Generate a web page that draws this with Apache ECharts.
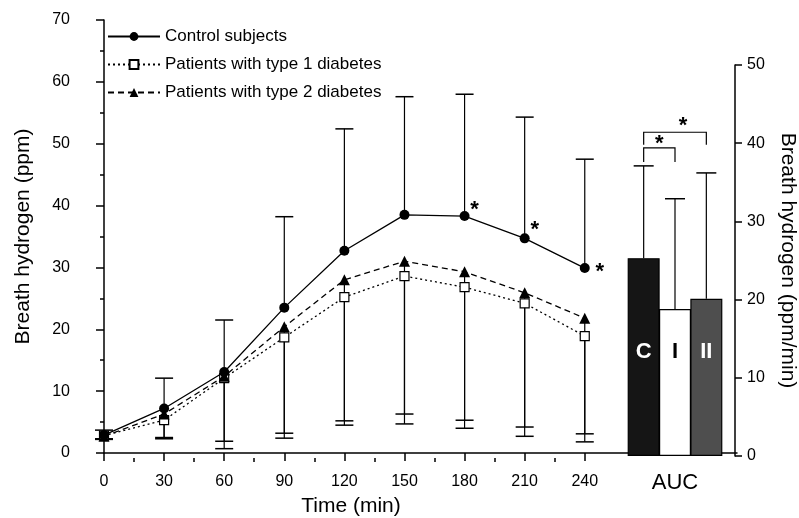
<!DOCTYPE html>
<html><head><meta charset="utf-8">
<script src="https://cdn.jsdelivr.net/npm/echarts@6/dist/echarts.min.js"></script>
<style>html,body{margin:0;padding:0;background:#fff}#c{width:799px;height:518px}</style>
</head><body><div id="c"></div>
<script>
// ---- data ----
const times = [0, 30, 60, 90, 120, 150, 180, 210, 240];
const minorTimes = [15, 45, 75, 105, 135, 165, 195, 225];
const control = [2.9, 7.2, 13.1, 23.5, 32.7, 38.5, 38.3, 34.7, 29.9];
const type1 = [2.8, 5.3, 12.1, 18.7, 25.2, 28.6, 26.8, 24.2, 18.9];
const type2 = [2.7, 6.3, 12.4, 20.4, 28.0, 31.0, 29.3, 25.9, 21.8];
const controlUpper = [3.7, 12.1, 21.5, 38.2, 52.4, 57.6, 58.0, 54.3, 47.5];
const type1Lower = [2.2, 2.3, 0.7, 2.4, 4.5, 4.7, 4.0, 2.7, 1.8];
const type2Lower = [2.3, 2.5, 1.9, 3.2, 5.2, 6.3, 5.3, 4.2, 3.1];
const sigTimes = [180, 210, 240];
const aucCats = ['C', 'I', 'II'];
const aucValues = [25.3, 18.8, 20.1];
const aucUpper = [37.1, 32.9, 36.2];
// brackets: [fromIndex, toIndex, legBottom, top]
const brackets = [[0, 2, 39.8, 41.4], [0, 1, 37.6, 39.4]];
const names = ['Control subjects', 'Patients with type 1 diabetes', 'Patients with type 2 diabetes'];

// ---- styles ----
const FF = "'Liberation Sans', Arial, Helvetica, sans-serif";
const starOffsets = {180: [10, -6], 210: [10, -8], 240: [15, 4]};
const barFill = ['#151515', '#ffffff', '#4e4e4e'];
const barText = ['#ffffff', '#000000', '#ffffff'];

function errRender(capHalf) {
  return function (params, api) {
    const x = api.value(0), y1 = api.value(1), y2 = api.value(2);
    const p1 = api.coord([x, y1]), p2 = api.coord([x, y2]);
    return {
      type: 'group',
      children: [
        {type: 'line', shape: {x1: p1[0], y1: p1[1], x2: p2[0], y2: p2[1]}, style: {stroke: '#000', lineWidth: 1.2}},
        {type: 'line', shape: {x1: p2[0] - capHalf, y1: p2[1], x2: p2[0] + capHalf, y2: p2[1]}, style: {stroke: '#000', lineWidth: 1.5}}
      ]
    };
  };
}

function bracketRender(params, api) {
  const a = api.value(0), b = api.value(1), lo = api.value(2), hi = api.value(3);
  const pa = api.coord([a, hi]), pb = api.coord([b, hi]);
  const pal = api.coord([a, lo]), pbl = api.coord([b, lo]);
  const wide = b - a > 1;
  const mid = (pa[0] + pb[0]) / 2 + (wide ? 8 : 0);
  return {
    type: 'group',
    children: [
      {type: 'polyline', shape: {points: [[pal[0], pal[1]], [pa[0], pa[1]], [pb[0], pb[1]], [pbl[0], pbl[1]]]},
       style: {stroke: '#000', lineWidth: 1.2, fill: null}},
      {type: 'text', style: {text: '*', x: mid, y: pa[1] + (wide ? 5 : 7), align: 'center', verticalAlign: 'bottom',
        font: 'bold 22px ' + FF, fill: '#000'}}
    ]
  };
}

const axisLineStyle = {color: '#000', width: 1.5};

const controlData = times.map((t, i) => {
  const item = {value: [t, control[i]]};
  if (sigTimes.includes(t)) {
    item.label = {show: true, formatter: '*', position: 'inside', offset: starOffsets[t],
      fontSize: 22, fontWeight: 'bold', color: '#000', fontFamily: FF};
  }
  return item;
});

const option = {
  animation: false,
  backgroundColor: '#fff',
  textStyle: {fontFamily: FF, color: '#000'},
  grid: [
    {left: 104, right: 62, top: 20, bottom: 65},
    {left: 628, right: 75, top: 65, bottom: 62}
  ],
  legend: {
    orient: 'vertical', left: 102, top: 23, itemWidth: 52, itemHeight: 11, itemGap: 11,
    textStyle: {fontSize: 17, color: '#000', fontFamily: FF},
    data: names
  },
  graphic: [
    {type: 'text', x: 351, y: 506, style: {text: 'Time (min)', align: 'center', verticalAlign: 'middle',
      font: '21px ' + FF, fill: '#000'}}
  ],
  xAxis: [
    {gridIndex: 0, type: 'value', position: 'bottom', min: 0, max: 316, offset: 5,
     axisLine: {lineStyle: axisLineStyle},
     axisTick: {show: true, customValues: times, length: 8, lineStyle: axisLineStyle},
     axisLabel: {customValues: times, fontSize: 16, color: '#000', margin: 16, fontFamily: FF},
     splitLine: {show: false}},
    {gridIndex: 0, type: 'value', position: 'bottom', min: 0, max: 316, offset: 5,
     axisLine: {show: false},
     axisTick: {show: true, customValues: minorTimes, length: 4, lineStyle: axisLineStyle},
     axisLabel: {show: false}, splitLine: {show: false}},
    {gridIndex: 1, type: 'category', position: 'bottom', data: aucCats,
     axisLine: {show: false}, axisTick: {show: false}, axisLabel: {show: false},
     name: 'AUC', nameLocation: 'middle', nameGap: 16,
     nameTextStyle: {fontSize: 22, color: '#000', fontFamily: FF}}
  ],
  yAxis: [
    {gridIndex: 0, type: 'value', min: 0, max: 70, interval: 10, offset: 20,
     axisLine: {show: true, lineStyle: axisLineStyle},
     axisTick: {show: true, length: 8, lineStyle: axisLineStyle},
     minorTick: {show: true, splitNumber: 2, length: 4, lineStyle: axisLineStyle},
     axisLabel: {fontSize: 16, color: '#000', margin: 14, fontFamily: FF},
     splitLine: {show: false},
     name: 'Breath hydrogen (ppm)', nameLocation: 'middle', nameGap: 50,
     nameTextStyle: {fontSize: 21, color: '#000', fontFamily: FF}},
    {gridIndex: 1, type: 'value', position: 'right', min: 0, max: 50, interval: 10, offset: 13,
     axisLine: {show: true, lineStyle: axisLineStyle},
     axisTick: {show: true, length: 7, lineStyle: axisLineStyle},
     axisLabel: {fontSize: 16, color: '#000', margin: 12, fontFamily: FF},
     splitLine: {show: false},
     name: 'Breath hydrogen (ppm/min)', nameLocation: 'middle', nameGap: 42, nameRotate: -90,
     nameTextStyle: {fontSize: 21, color: '#000', fontFamily: FF}}
  ],
  series: [
    {type: 'custom', xAxisIndex: 0, yAxisIndex: 0, renderItem: errRender(9), z: 1,
     data: times.map((t, i) => [t, control[i], controlUpper[i]])},
    {type: 'custom', xAxisIndex: 0, yAxisIndex: 0, renderItem: errRender(9), z: 1,
     data: times.map((t, i) => [t, type1[i], type1Lower[i]])},
    {type: 'custom', xAxisIndex: 0, yAxisIndex: 0, renderItem: errRender(9), z: 1,
     data: times.map((t, i) => [t, type2[i], type2Lower[i]])},
    {name: names[0], type: 'line', xAxisIndex: 0, yAxisIndex: 0, z: 5,
     symbol: 'circle', symbolSize: 10, showAllSymbol: true,
     lineStyle: {color: '#000', width: 1.3, type: 'solid'},
     itemStyle: {color: '#000'},
     data: controlData},
    {name: names[1], type: 'line', xAxisIndex: 0, yAxisIndex: 0, z: 3,
     symbol: 'rect', symbolSize: 9, showAllSymbol: true,
     lineStyle: {color: '#000', width: 1.3, type: [2, 3]},
     itemStyle: {color: '#fff', borderColor: '#000', borderWidth: 1.2},
     data: times.map((t, i) => [t, type1[i]])},
    {name: names[2], type: 'line', xAxisIndex: 0, yAxisIndex: 0, z: 4,
     symbol: 'triangle', symbolSize: 11, showAllSymbol: true,
     lineStyle: {color: '#000', width: 1.3, type: [6, 4]},
     itemStyle: {color: '#000'},
     data: times.map((t, i) => [t, type2[i]])},
    {type: 'bar', xAxisIndex: 2, yAxisIndex: 1, barWidth: 32, z: 2,
     label: {show: true, position: 'insideBottom', distance: 93, formatter: '{b}',
       fontSize: 22, fontWeight: 'bold', fontFamily: FF},
     data: aucValues.map((v, i) => ({value: v,
       itemStyle: {color: barFill[i], borderColor: '#000', borderWidth: 1.2},
       label: {color: barText[i]}}))},
    {type: 'custom', xAxisIndex: 2, yAxisIndex: 1, renderItem: errRender(10), z: 3,
     data: aucValues.map((v, i) => [i, v, aucUpper[i]])},
    {type: 'custom', xAxisIndex: 2, yAxisIndex: 1, renderItem: bracketRender, z: 3,
     data: brackets}
  ]
};

const chart = echarts.init(document.getElementById('c'), null, {renderer: 'canvas'});
chart.setOption(option);
</script>
</body></html>
